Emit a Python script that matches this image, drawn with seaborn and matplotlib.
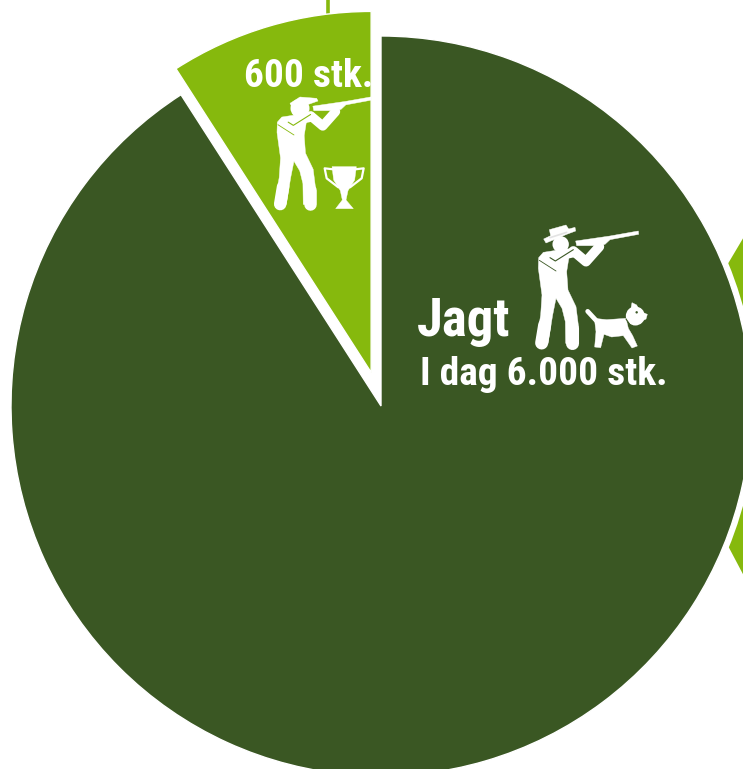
import matplotlib
matplotlib.use('Agg')
import matplotlib.pyplot as plt
import seaborn as sns
from matplotlib.patches import Polygon, Circle

stk = [6000, 600]
tekst_jagt = 'Jagt'
tekst_dag = 'I dag 6.000 stk.'
tekst_600 = '600 stk.'

sns.set_theme(style='white')
plt.rcParams['font.family'] = ['Roboto Condensed', 'Liberation Sans', 'DejaVu Sans']
farver = sns.color_palette(['#3A5723', '#86B90D'])

W, H = 743, 769
fig = plt.figure(figsize=(W / 100, H / 100), dpi=100)
ax = fig.add_axes([0, 0, 1, 1])

# pixel -> data (y nedad i referencen)
def py(y):
    return H - y

# resten af den store figur, skaaret af ved kanten
ax.add_patch(Polygon([(726, py(267)), (745, py(235)), (745, py(578)), (726, py(542))],
                     color=farver[1], lw=0, zorder=0))
ax.plot([328, 328], [py(-2), py(14)], color=farver[1], lw=2.6, solid_capstyle='butt', zorder=0)
ax.add_patch(Circle((381, py(406)), 375.5, color='white', lw=0, zorder=0.5))

wedges, _ = ax.pie(stk, colors=farver, startangle=90, counterclock=False,
                   radius=370, center=(381, py(406)), explode=[0, 35])
wedges[0].set_zorder(1)
wedges[1].set_zorder(1)
wedges[1].set_radius(361)

ax.set_xlim(0, W)
ax.set_ylim(0, H)
ax.set_aspect('equal')
ax.axis('off')

hvid = 'white'

# ikon-hjaelpere, koordinater i zoom-pixels (3x) med forskydning og skala
def lav_t(x0, y0, s):
    return lambda x, y: (x0 + s * x / 3, py(y0 + s * y / 3))

def poly(t, pts, c=hvid, clip=None):
    p = Polygon([t(x, y) for x, y in pts], closed=True, fc=c, ec=c, lw=0.3, zorder=3)
    ax.add_patch(p)
    if clip is not None:
        p.set_clip_path(clip)
    return p

def streg(t, pts, lw, c=hvid, clip=None):
    xs, ys = zip(*[t(x, y) for x, y in pts])
    l, = ax.plot(xs, ys, color=c, lw=lw, solid_capstyle='round', solid_joinstyle='round', zorder=3)
    if clip is not None:
        l.set_clip_path(clip)

def skytte(t, s, bund, klip=None):
    # krop
    poly(t, [(386, 128), (400, 112), (445, 105), (478, 120), (470, 170), (474, 225), (498, 275),
             (505, 330), (505, 385), (467, 385), (466, 320), (456, 280), (438, 250),
             (428, 300), (414, 385), (378, 385), (392, 300), (396, 240), (385, 160)])
    # ben afrundet
    streg(t, [(487, 340), (487, 384)], 9.4 * s)
    streg(t, [(404, 330), (395, 384)], 9.4 * s)
    # arm
    streg(t, [(420, 128), (492, 112)], 7 * s)
    streg(t, [(490, 108), (528, 140), (568, 95)], 7 * s)
    # linje over bryst
    streg(t, [(388, 136), (438, 168)], 0.6, c=bund)
    streg(t, [(420, 128), (436, 138), (490, 104)], 0.8, c=bund)
    # gevaer
    poly(t, [(497, 78), (600, 63), (685, 48), (686, 58), (600, 74), (585, 88), (560, 92), (500, 92)], clip=klip)

# jaeger med hat og hund
t1 = lav_t(410, 215, 1)
skytte(t1, 1, farver[0])
ax.add_patch(Circle(t1(452, 88), 8.2, color=hvid, lw=0, zorder=3))
poly(t1, [(418, 44), (468, 30), (476, 42), (495, 37), (497, 48), (470, 58), (408, 84), (401, 72), (422, 62)])
streg(t1, [(420, 68), (470, 52)], 1.2, c='#E3E3E3')

# hund
streg(t1, [(533, 289), (558, 316)], 3.4)
poly(t1, [(553, 310), (590, 314), (648, 310), (655, 340), (668, 362), (682, 393), (666, 399),
          (640, 362), (605, 366), (582, 358), (572, 398), (554, 396), (558, 350)])
ax.add_patch(Circle(t1(676, 303), 9.5, color=hvid, lw=0, zorder=3))
poly(t1, [(662, 285), (666, 263), (680, 270), (690, 290)])
poly(t1, [(688, 288), (712, 298), (708, 312), (682, 325)])
streg(t1, [(648, 312), (662, 332)], 0.8, c=farver[0])
ax.add_patch(Circle(t1(680, 292), 1.2, color=farver[0], lw=0, zorder=4))

# skytte med kasket og pokal
klip = wedges[1]
t2 = lav_t(160 - 0.96 * 385 / 3 + 117, 0 - 0.96 * 115 / 3 + 118, 0.96)
skytte(t2, 0.96, farver[1], klip=klip)
t3 = lav_t(160, 0, 1)
ax.add_patch(Circle(t3(420, 325), 9.5, color=hvid, lw=0, zorder=3))
poly(t3, [(390, 310), (420, 291), (470, 295), (474, 303), (440, 315), (400, 330)])
poly(t3, [(516, 500), (589, 500), (584, 540), (564, 572), (558, 600), (580, 626), (527, 626),
          (547, 600), (541, 572), (521, 540)])
streg(t3, [(520, 508), (494, 505), (500, 535), (535, 562)], 1.6)
streg(t3, [(585, 508), (611, 505), (605, 535), (570, 562)], 1.6)

# tekster
ax.text(417, py(336), tekst_jagt, color=hvid, fontsize=38, fontweight='bold', ha='left', va='baseline', zorder=5)
ax.text(420, py(385), tekst_dag, color=hvid, fontsize=28.4, fontweight='bold', ha='left', va='baseline', zorder=5)
ax.text(244, py(87), tekst_600, color=hvid, fontsize=28.4, fontweight='bold', ha='left', va='baseline', zorder=5)

fig.savefig('out.png', dpi=100, facecolor='white')
